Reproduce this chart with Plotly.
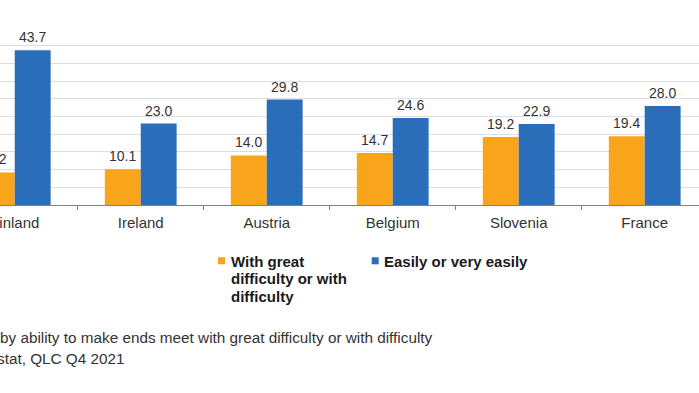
import plotly.graph_objects as go

# ---- data ----
countries = ["Finland", "Ireland", "Austria", "Belgium", "Slovenia", "France"]
difficulty = [9.2, 10.1, 14.0, 14.7, 19.2, 19.4]
easily = [43.7, 23.0, 29.8, 24.6, 22.9, 28.0]
series_names = ["With great difficulty or with difficulty", "Easily or very easily"]
legend_lines = [["With great", "difficulty or with", "difficulty"], ["Easily or very easily"]]
footnote_lines = [
    "by ability to make ends meet with great difficulty or with difficulty",
    "stat, QLC Q4 2021",
]

# ---- styling ----
ORANGE = "#F9A51C"
BLUE = "#2A6DB8"
TXT = "#333333"
FONT = "Arial, Liberation Sans, sans-serif"

W, H = 699, 393
ML, MR, MT, MB = 0, 0, 28, 188
PW, PH = W - ML - MR, H - MT - MB


def pxx(x):
    return (x - ML) / PW


def pxy(y):
    return (H - MB - y) / PH


fig = go.Figure()
fig.add_trace(go.Bar(x=countries, y=difficulty, name=series_names[0],
                     marker=dict(color=ORANGE, line=dict(width=0))))
fig.add_trace(go.Bar(x=countries, y=easily, name=series_names[1],
                     marker=dict(color=BLUE, line=dict(width=0))))

annotations = []
# data labels
for vals, shift in ((difficulty, -18), (easily, 18)):
    for c, v in zip(countries, vals):
        annotations.append(dict(
            x=c, y=v, xref="x", yref="y", text=f"{v:.1f}", showarrow=False,
            xanchor="center", yanchor="bottom", xshift=shift, yshift=3,
            font=dict(family=FONT, size=14, color=TXT)))

# custom legend
shapes = []
leg_x = [218, 371.7]
leg_text_x = [229, 382]
colors = [ORANGE, BLUE]
for i in range(2):
    shapes.append(dict(type="rect", xref="paper", yref="paper",
                       x0=pxx(leg_x[i]), x1=pxx(leg_x[i] + 7),
                       y0=pxy(264.3), y1=pxy(257.3),
                       fillcolor=colors[i], line=dict(width=0)))
    for j, line in enumerate(legend_lines[i]):
        annotations.append(dict(
            x=pxx(leg_text_x[i]), y=pxy(261.5 + 17.3 * j), xref="paper", yref="paper",
            text=f"<b>{line}</b>", showarrow=False, xanchor="left", yanchor="middle",
            font=dict(family=FONT, size=15, color="#1a1a1a")))

# footnotes
for j, (line, xs) in enumerate(zip(footnote_lines, (-2, -5))):
    annotations.append(dict(
        x=0, y=pxy(337.5 + 21 * j), xref="paper", yref="paper", text=line,
        showarrow=False, xanchor="left", yanchor="middle", xshift=xs,
        font=dict(family=FONT, size=15.3, color=TXT)))

fig.update_layout(
    template="none",
    width=W, height=H,
    margin=dict(l=ML, r=MR, t=MT, b=MB, pad=0, autoexpand=False),
    paper_bgcolor="white", plot_bgcolor="white",
    barmode="group", bargap=0.43, bargroupgap=0,
    showlegend=False,
    font=dict(family=FONT, color=TXT),
    annotations=annotations, shapes=shapes,
)
fig.update_xaxes(
    type="category", range=[-0.117, 5.431], automargin=False,
    showgrid=False, showline=True, linecolor="#7f7f7f", linewidth=1,
    ticks="outside", tickson="boundaries", ticklen=4, tickcolor="#7f7f7f",
    ticklabelstandoff=4,
    tickfont=dict(family=FONT, size=15, color=TXT),
)
fig.update_yaxes(
    range=[0, 50], dtick=5, showticklabels=False, automargin=False,
    showgrid=True, gridcolor="#dedede", gridwidth=1,
    zeroline=False, showline=False,
)

fig.write_html("out.html", config={"displayModeBar": False},
               post_script="document.body.style.margin='0';document.body.style.overflow='hidden';")
